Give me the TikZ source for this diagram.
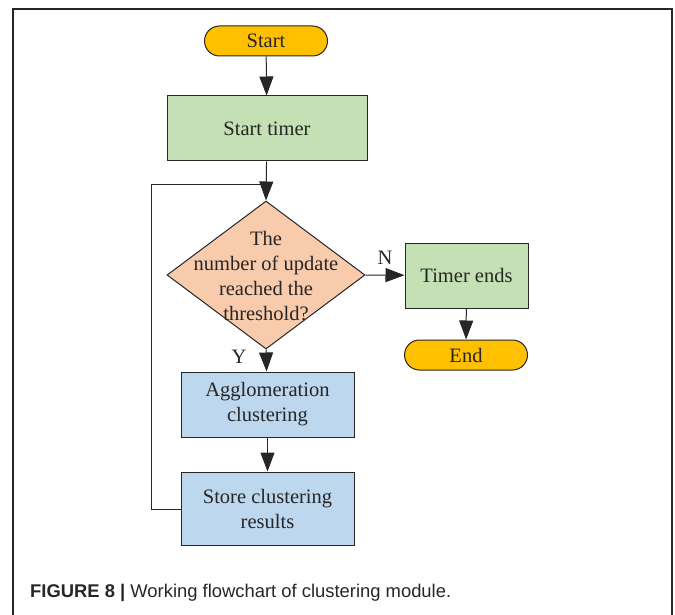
\documentclass[tikz,border=0pt]{standalone}
\usepackage{fontspec}
\setmainfont{Liberation Serif}
\newfontfamily\capfont{Liberation Sans}
\usetikzlibrary{arrows.meta,shapes.geometric}
\definecolor{startc}{HTML}{FFC000}
\definecolor{greenc}{HTML}{C5E0B4}
\definecolor{bluec}{HTML}{BDD7EE}
\definecolor{peachc}{HTML}{F8CBAD}
\definecolor{linec}{HTML}{262626}
\tikzset{
  every node/.style={font=\fontsize{20.5}{25}\selectfont, text=linec},
  term/.style={draw=linec, line width=1pt, fill=startc, rounded corners=15pt, minimum width=123pt, minimum height=30pt, inner sep=0pt},
  procbox/.style={draw=linec, line width=1pt, minimum width=#1, inner sep=0pt, align=center},
  decis/.style={draw=linec, line width=1pt, fill=peachc, diamond, aspect=1.34, minimum width=198pt, minimum height=148pt, inner sep=0pt, align=center},
  conn/.style={draw=linec, line width=1pt, -{Triangle[length=19pt,width=14pt]}},
  plain/.style={draw=linec, line width=1pt},
}
\begin{document}
\begin{tikzpicture}[x=1pt,y=-1pt]
\useasboundingbox (0,0) rectangle (675,615);
\draw[linec, line width=1.2pt] (13,640) -- (13,9) -- (672,9) -- (672,640);
\node[term] (start) at (266,41) {Start};
\node[procbox=200pt, fill=greenc, minimum height=65pt] (timer) at (267,128.5) {Start timer};
\node[decis] (dec) at (266,275) {};
\node[align=center] (dectext) at (266,276) {The\\number of update\\reached the\\threshold?};
\node[procbox=123pt, fill=greenc, minimum height=65pt] (tend) at (466.5,275.5) {Timer ends};
\node[term] (end) at (466,355) {End};
\node[procbox=173pt, fill=bluec, minimum height=65pt] (agg) at (267.5,404.5) {Agglomeration\\clustering};
\node[procbox=173pt, fill=bluec, minimum height=73pt] (store) at (267.5,508.5) {Store clustering\\results};
\node (nlab) at (385,258) {N};
\node (ylab) at (239,357) {Y};
\coordinate (loopa) at (151,509);
\coordinate (loopb) at (151,185);
\coordinate (loopc) at (266,185);
\draw[conn] (start) -- (timer);
\draw[conn] (timer) -- (dec.north);
\draw[conn] (dec.east) -- (tend);
\draw[conn] (tend) -- (end);
\draw[conn] (dec.south) -- (agg);
\draw[conn] (agg) -- (store);
\draw[plain] (store.west |- loopa) -- (loopa) -- (loopb) -- (loopc);
\node[anchor=west, inner sep=0pt] (cap) at (30,593) {\capfont\fontsize{18.4}{20}\selectfont\textbf{FIGURE 8 |} Working flowchart of clustering module.};
\end{tikzpicture}
\end{document}
